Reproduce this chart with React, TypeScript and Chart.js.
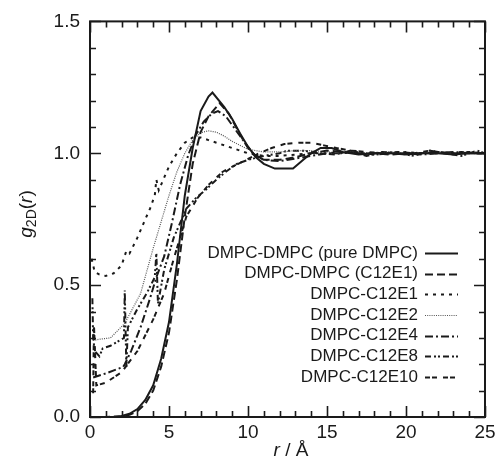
import React, { useEffect, useRef } from "react";
import { Chart, registerables } from "chart.js";

Chart.register(...registerables);

// ---- data (r in Å, g2D(r)) ----
const rPure = [0, 1, 1.5, 2, 2.5, 3, 3.5, 4, 4.5, 5, 5.5, 6, 6.5, 7, 7.5, 7.75, 8.5, 9, 9.5, 10, 10.5, 11, 11.7, 12.85, 13.5, 14, 14.6, 15.3, 16, 17, 18, 19, 20, 21, 22, 23, 24, 25];
const gPure = [0, 0, 0.001, 0.004, 0.012, 0.03, 0.065, 0.12, 0.22, 0.36, 0.58, 0.84, 1.02, 1.16, 1.215, 1.23, 1.175, 1.13, 1.075, 1.025, 0.985, 0.96, 0.942, 0.942, 0.975, 1.0, 1.02, 1.02, 1.005, 0.995, 1.0, 1.0, 0.995, 1.0, 1.0, 0.995, 1.0, 1.0];

const rDmpcE1 = [0, 1, 2, 2.5, 3, 3.5, 4, 4.5, 5, 5.5, 6, 6.5, 7, 7.5, 8.2, 8.8, 9.5, 10, 10.5, 11, 12, 13, 14, 15, 16, 17, 18, 19, 20, 21, 22, 23, 24, 25];
const gDmpcE1 = [0, 0, 0.002, 0.008, 0.022, 0.05, 0.1, 0.19, 0.32, 0.52, 0.76, 0.96, 1.08, 1.14, 1.19, 1.15, 1.07, 1.02, 0.99, 0.975, 0.975, 0.985, 1.0, 1.01, 1.005, 1.0, 1.0, 0.995, 1.0, 1.0, 1.005, 1.0, 1.0, 1.0];

const rE1 = [0.1, 0.3, 0.6, 1, 1.5, 2, 2.3, 2.5, 3, 3.5, 3.8, 4.1, 4.2, 4.35, 5, 5.5, 6, 6.5, 7, 7.5, 8, 8.5, 9, 9.5, 10, 11, 12, 13, 14, 15, 16, 17, 18, 19, 20, 21, 22, 23, 24, 25];
const gE1 = [0.6, 0.55, 0.54, 0.535, 0.545, 0.575, 0.63, 0.62, 0.68, 0.75, 0.79, 0.84, 0.9, 0.86, 0.95, 1.0, 1.04, 1.06, 1.06, 1.05, 1.04, 1.03, 1.02, 1.01, 1.0, 0.99, 0.99, 0.995, 1.0, 1.0, 1.005, 1.0, 0.995, 1.0, 1.005, 1.0, 1.0, 1.0, 1.005, 1.0];

const rE2 = [0.2, 0.6, 1.3, 2.2, 3.2, 4, 4.5, 5, 5.5, 6, 6.5, 7, 7.5, 8, 8.5, 9, 9.5, 10, 11, 12, 13, 14, 15, 16, 17, 18, 19, 20, 21, 22, 23, 24, 25];
const gE2 = [0.29, 0.295, 0.3, 0.355, 0.468, 0.64, 0.74, 0.84, 0.93, 1.0, 1.05, 1.078, 1.085, 1.08, 1.065, 1.045, 1.03, 1.015, 1.005, 1.005, 1.01, 1.01, 1.005, 1.0, 1.0, 1.0, 1.005, 1.0, 1.0, 1.0, 1.0, 1.0, 1.0];

const rE4 = [0.2, 1, 2.1, 2.2, 2.6, 3.2, 3.8, 4.2, 4.7, 5.2, 5.7, 6.2, 6.7, 7.2, 7.7, 8.1, 8.6, 9.2, 9.8, 10.3, 11, 12, 13, 14, 15, 16, 17, 18, 19, 20, 21, 22, 23, 24, 25];
const gE4 = [0.15, 0.165, 0.19, 0.2, 0.25, 0.34, 0.45, 0.53, 0.61, 0.74, 0.88, 0.99, 1.07, 1.12, 1.15, 1.16, 1.14, 1.09, 1.04, 1.0, 0.975, 0.97, 0.98, 0.99, 1.0, 1.0, 1.005, 0.995, 1.0, 1.0, 0.995, 1.0, 1.005, 1.0, 1.0];

const rE8 = [0.15, 0.2, 0.3, 0.6, 0.8, 1.3, 2.15, 2.2, 2.3, 2.4, 3, 3.6, 4.1, 4.2, 4.3, 4.7, 5.3, 6.1, 6.7, 7.3, 8, 8.6, 9.3, 10, 11, 12, 12.5, 13.5, 14.5, 15.5, 16.5, 17.5, 18.5, 19.5, 20.5, 21.5, 22.5, 23.5, 24.5, 25];
const gE8 = [0.45, 0.3, 0.25, 0.23, 0.26, 0.27, 0.3, 0.48, 0.19, 0.34, 0.41, 0.47, 0.53, 0.62, 0.43, 0.56, 0.68, 0.79, 0.83, 0.86, 0.9, 0.93, 0.96, 0.975, 0.99, 1.0, 1.01, 1.01, 1.0, 0.995, 1.01, 0.99, 1.005, 1.0, 0.99, 1.01, 1.0, 0.99, 1.01, 1.0];

const rE10 = [0.2, 0.25, 0.4, 1, 2, 3, 4, 4.7, 5.3, 6.1, 6.8, 7.5, 8.4, 9.2, 9.9, 10.7, 11.5, 12.3, 13.2, 14, 14.8, 15.6, 16.5, 17.5, 18.5, 19.5, 20.5, 21.5, 22.5, 23.5, 24.5, 25];
const gE10 = [0.09, 0.35, 0.12, 0.13, 0.17, 0.25, 0.37, 0.47, 0.6, 0.76, 0.83, 0.88, 0.93, 0.955, 0.975, 1.0, 1.02, 1.035, 1.04, 1.04, 1.03, 1.02, 1.01, 1.005, 1.0, 1.005, 1.0, 1.01, 1.0, 1.005, 1.0, 1.0];

const seriesLabels = [
  "DMPC-DMPC (pure DMPC)",
  "DMPC-DMPC (C12E1)",
  "DMPC-C12E1",
  "DMPC-C12E2",
  "DMPC-C12E4",
  "DMPC-C12E8",
  "DMPC-C12E10",
];

const xTickLabels = [0, 5, 10, 15, 20, 25];
const yTickLabels = [0, 0.5, 1.0, 1.5];
const xMinorTicks = Array.from({ length: 26 }, (_, i) => i);
const yMinorTicks = Array.from({ length: 16 }, (_, i) => i / 10);

const FONT = '"Liberation Sans", Arial, Helvetica, sans-serif';
const INK = "#1a1a1a";

function pts(r: number[], g: number[]) {
  return r.map((x, i) => ({ x, y: g[i] }));
}

const framePlugin = {
  id: "frameTicksLegend",
  afterDraw(chart: any) {
    const { ctx, chartArea: a, scales } = chart;
    const xs = scales.x;
    const ys = scales.y;
    ctx.save();
    ctx.strokeStyle = INK;
    ctx.lineWidth = 2;
    ctx.strokeRect(a.left, a.top, a.right - a.left, a.bottom - a.top);
    ctx.lineWidth = 1.6;
    ctx.beginPath();
    xMinorTicks.forEach((v) => {
      const px = Math.round(xs.getPixelForValue(v)) + 0.5;
      const len = v % 5 === 0 ? 11 : 6;
      ctx.moveTo(px, a.bottom);
      ctx.lineTo(px, a.bottom - len);
      ctx.moveTo(px, a.top);
      ctx.lineTo(px, a.top + len);
    });
    yMinorTicks.forEach((v) => {
      const py = Math.round(ys.getPixelForValue(v)) + 0.5;
      const major = Math.abs(v * 2 - Math.round(v * 2)) < 1e-6;
      const len = major ? 11 : 6;
      ctx.moveTo(a.left, py);
      ctx.lineTo(a.left + len, py);
      ctx.moveTo(a.right, py);
      ctx.lineTo(a.right - len, py);
    });
    ctx.stroke();

    // legend
    ctx.font = `17px ${FONT}`;
    ctx.fillStyle = INK;
    ctx.textAlign = "right";
    ctx.textBaseline = "middle";
    chart.data.datasets.forEach((ds: any, i: number) => {
      const y = 253 + i * 20.65;
      ctx.fillText(ds.label, 418, y);
      ctx.save();
      ctx.strokeStyle = ds.borderColor;
      ctx.lineWidth = ds.borderWidth;
      ctx.setLineDash(ds.borderDash || []);
      ctx.beginPath();
      ctx.moveTo(425, Math.round(y) + 0.5);
      ctx.lineTo(458, Math.round(y) + 0.5);
      ctx.stroke();
      ctx.restore();
    });

    // x title: r / Å
    ctx.textAlign = "left";
    ctx.textBaseline = "alphabetic";
    const italic = `italic 19px ${FONT}`;
    const normal = `19px ${FONT}`;
    ctx.font = italic;
    const wr = ctx.measureText("r").width;
    ctx.font = normal;
    const wrest = ctx.measureText(" / Å").width;
    let x0 = 291 - (wr + wrest) / 2;
    ctx.font = italic;
    ctx.fillText("r", x0, 456);
    ctx.font = normal;
    ctx.fillText(" / Å", x0 + wr, 456);

    // y title: g2D(r)
    ctx.translate(32, 214);
    ctx.rotate(-Math.PI / 2);
    const sub = `14px ${FONT}`;
    const parts: [string, string, number][] = [
      ["g", italic, 0],
      ["2D", sub, 4],
      ["(", normal, 0],
      ["r", italic, 0],
      [")", normal, 0],
    ];
    let total = 0;
    parts.forEach(([t, f]) => {
      ctx.font = f;
      total += ctx.measureText(t).width;
    });
    let cx = -total / 2;
    parts.forEach(([t, f, dy]) => {
      ctx.font = f;
      ctx.fillText(t, cx, dy);
      cx += ctx.measureText(t).width;
    });
    ctx.restore();
  },
};

export default function App() {
  const ref = useRef<HTMLCanvasElement | null>(null);
  useEffect(() => {
    document.body.style.margin = "0";
    const canvas = ref.current;
    if (!canvas) return;
    const common = { pointRadius: 0, fill: false, tension: 0, borderColor: INK };
    const chart = new Chart(canvas, {
      type: "line",
      data: {
        datasets: [
          { ...common, label: seriesLabels[0], data: pts(rPure, gPure), borderWidth: 2, borderDash: [] },
          { ...common, label: seriesLabels[1], data: pts(rDmpcE1, gDmpcE1), borderWidth: 2, borderDash: [8, 4] },
          { ...common, label: seriesLabels[2], data: pts(rE1, gE1), borderWidth: 2, borderDash: [3, 5] },
          { ...common, label: seriesLabels[3], data: pts(rE2, gE2), borderWidth: 1.2, borderDash: [1, 1.2], borderColor: "#555" },
          { ...common, label: seriesLabels[4], data: pts(rE4, gE4), borderWidth: 2, borderDash: [8, 3, 2, 3] },
          { ...common, label: seriesLabels[5], data: pts(rE8, gE8), borderWidth: 2, borderDash: [6, 3, 2, 2, 2, 3] },
          { ...common, label: seriesLabels[6], data: pts(rE10, gE10), borderWidth: 2, borderDash: [5, 2, 5, 6] },
        ],
      },
      options: {
        animation: false,
        responsive: false,
        devicePixelRatio: 1,
        layout: { padding: { top: 20, right: 15, left: 0, bottom: 0 } },
        plugins: { legend: { display: false }, tooltip: { enabled: false } },
        scales: {
          x: {
            type: "linear",
            min: 0,
            max: 25,
            afterBuildTicks: (s: any) => {
              s.ticks = xTickLabels.map((v) => ({ value: v }));
            },
            ticks: { padding: 4, color: INK, font: { family: FONT, size: 19 }, maxRotation: 0 },
            grid: { display: false, drawTicks: false },
            border: { display: false },
            afterFit: (s: any) => {
              s.height = 42;
            },
          },
          y: {
            type: "linear",
            min: 0,
            max: 1.5,
            afterBuildTicks: (s: any) => {
              s.ticks = yTickLabels.map((v) => ({ value: v }));
            },
            ticks: {
              padding: 10,
              color: INK,
              font: { family: FONT, size: 19 },
              callback: (v: any) => Number(v).toFixed(1),
            },
            grid: { display: false, drawTicks: false },
            border: { display: false },
            afterFit: (s: any) => {
              s.width = 90;
            },
          },
        },
      },
      plugins: [framePlugin],
    });
    return () => chart.destroy();
  }, []);
  return <canvas ref={ref} width={500} height={459} style={{ display: "block", width: 500, height: 459 }} />;
}
